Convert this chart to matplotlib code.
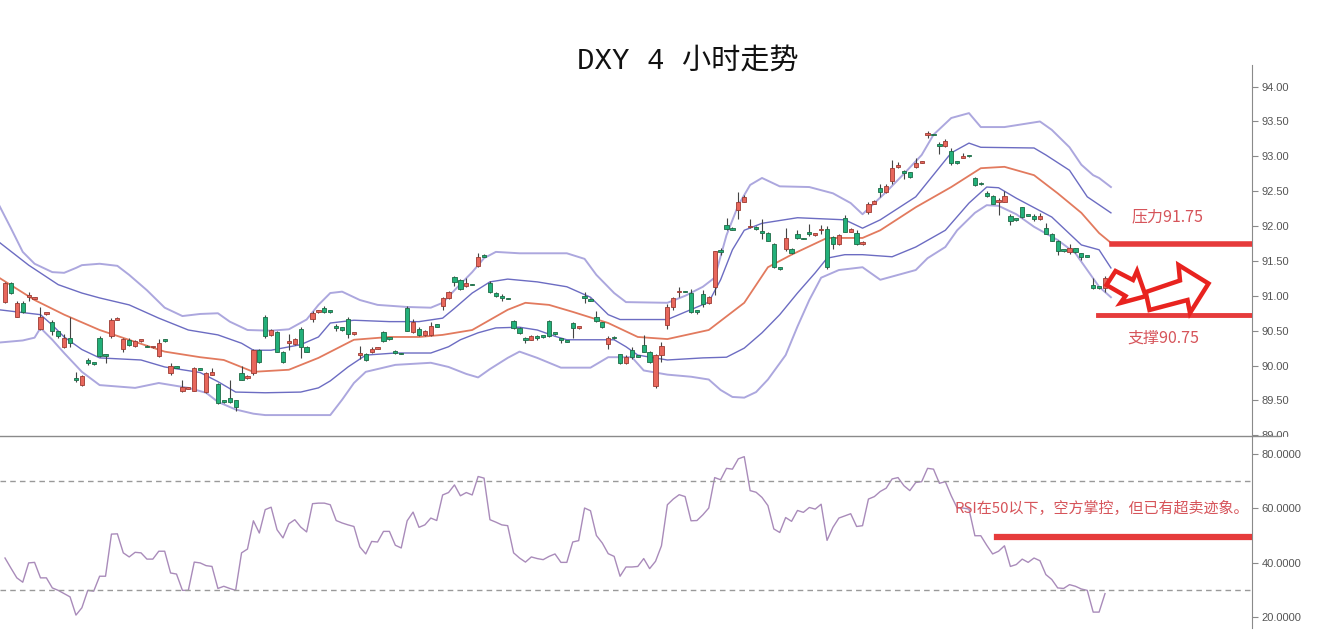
import numpy as np
import matplotlib.pyplot as plt
from matplotlib.lines import Line2D
from matplotlib.patches import Polygon, Rectangle

# %% DXY 4h candles (one value per bar)
opens = [90.91, 91.18, 90.70, 90.90, 90.98, 90.96, 90.53, 90.74, 90.63, 90.49,
         90.27, 90.40, 89.81, 89.72, 90.08, 90.03, 90.40, 90.15, 90.42, 90.66,
         90.24, 90.37, 90.28, 90.35, 90.27, 90.26, 90.14, 90.35, 89.89, 90.00,
         89.63, 89.67, 89.64, 89.96, 89.62, 89.87, 89.74, 89.48, 89.54, 89.50,
         89.90, 89.82, 89.90, 90.22, 90.70, 90.44, 90.48, 90.20, 90.33, 90.31,
         90.53, 90.27, 90.67, 90.77, 90.83, 90.78, 90.55, 90.55, 90.67, 90.45,
         90.15, 90.17, 90.19, 90.24, 90.48, 90.38, 90.21, 90.17, 90.83, 90.48,
         90.53, 90.44, 90.44, 90.59, 90.85, 90.97, 91.27, 91.23, 91.14, 91.16,
         91.43, 91.56, 91.19, 91.04, 90.97, 90.96, 90.64, 90.54, 90.40, 90.37,
         90.40, 90.41, 90.64, 90.46, 90.39, 90.35, 90.61, 90.54, 90.97, 90.96,
         90.70, 90.62, 90.31, 90.41, 90.16, 90.03, 90.23, 90.13, 90.30, 90.20,
         89.70, 90.15, 90.58, 90.84, 91.05, 91.06, 91.04, 90.77, 91.03, 90.90,
         91.13, 91.64, 92.01, 91.96, 92.23, 92.35, 91.98, 91.99, 91.90, 91.90,
         91.74, 91.41, 91.67, 91.67, 91.89, 91.82, 91.89, 91.87, 91.94, 91.96,
         91.84, 91.74, 92.12, 91.92, 91.90, 91.74, 92.20, 92.32, 92.55, 92.49,
         92.65, 92.85, 92.79, 92.77, 92.85, 92.91, 93.31, 93.31, 93.18, 93.15,
         93.08, 92.93, 92.98, 93.00, 92.69, 92.60, 92.47, 92.43, 92.35, 92.35,
         92.14, 92.09, 92.27, 92.15, 92.15, 92.10, 91.97, 91.89, 91.79, 91.64,
         91.63, 91.68, 91.61, 91.56, 91.16, 91.11, 91.11]
highs = [91.20, 91.20, 90.93, 90.93, 91.05, 90.99, 90.84, 90.76, 90.66, 90.50,
         90.45, 90.70, 89.91, 89.87, 90.11, 90.04, 90.42, 90.16, 90.68, 90.70,
         90.40, 90.40, 90.37, 90.37, 90.30, 90.27, 90.38, 90.38, 90.03, 90.00,
         89.80, 89.69, 89.98, 89.97, 89.91, 89.96, 89.75, 89.49, 89.80, 89.50,
         89.99, 89.86, 90.24, 90.24, 90.72, 90.53, 90.50, 90.21, 90.45, 90.40,
         90.56, 90.28, 90.78, 90.79, 90.85, 90.79, 90.60, 90.56, 90.69, 90.47,
         90.28, 90.18, 90.26, 90.26, 90.50, 90.39, 90.23, 90.18, 90.85, 90.67,
         90.55, 90.51, 90.62, 90.60, 90.99, 91.07, 91.28, 91.24, 91.25, 91.17,
         91.62, 91.60, 91.21, 91.05, 91.02, 90.97, 90.66, 90.55, 90.41, 90.44,
         90.44, 90.42, 90.66, 90.47, 90.40, 90.35, 90.62, 90.56, 91.05, 90.97,
         90.78, 90.63, 90.42, 90.42, 90.17, 90.15, 90.26, 90.14, 90.44, 90.21,
         90.17, 90.34, 90.89, 90.99, 91.13, 91.07, 91.10, 90.79, 91.08, 91.00,
         91.65, 91.68, 92.12, 91.98, 92.49, 92.44, 92.10, 92.00, 92.10, 91.91,
         91.76, 91.42, 91.97, 91.68, 91.95, 91.83, 92.03, 91.88, 92.02, 92.00,
         91.86, 91.88, 92.16, 91.97, 91.95, 91.78, 92.34, 92.38, 92.60, 92.60,
         92.95, 92.92, 92.80, 92.78, 92.97, 92.93, 93.37, 93.32, 93.20, 93.25,
         93.12, 92.94, 93.05, 93.01, 92.70, 92.63, 92.50, 92.44, 92.40, 92.50,
         92.17, 92.10, 92.28, 92.16, 92.18, 92.19, 92.05, 91.90, 91.80, 91.65,
         91.75, 91.69, 91.62, 91.57, 91.25, 91.12, 91.28]
lows = [90.90, 91.02, 90.69, 90.75, 90.92, 90.95, 90.51, 90.73, 90.44, 90.40,
        90.25, 90.27, 89.76, 89.70, 90.01, 90.01, 90.13, 90.04, 90.40, 90.65,
        90.20, 90.28, 90.26, 90.34, 90.26, 90.25, 90.13, 90.34, 89.87, 89.96,
        89.62, 89.66, 89.63, 89.93, 89.61, 89.86, 89.45, 89.47, 89.46, 89.35,
        89.79, 89.81, 89.87, 90.04, 90.40, 90.43, 90.19, 90.04, 90.23, 90.30,
        90.11, 90.19, 90.62, 90.76, 90.76, 90.76, 90.50, 90.50, 90.40, 90.44,
        90.09, 90.07, 90.18, 90.24, 90.34, 90.37, 90.17, 90.16, 90.49, 90.46,
        90.43, 90.43, 90.43, 90.55, 90.80, 90.96, 91.14, 91.08, 91.13, 91.15,
        91.42, 91.55, 91.04, 90.99, 90.92, 90.95, 90.53, 90.45, 90.33, 90.36,
        90.36, 90.40, 90.41, 90.44, 90.33, 90.34, 90.40, 90.53, 90.90, 90.92,
        90.63, 90.54, 90.24, 90.38, 90.02, 90.02, 90.10, 90.12, 90.19, 90.04,
        89.68, 90.05, 90.52, 90.80, 90.98, 91.05, 90.76, 90.74, 90.84, 90.89,
        91.01, 91.58, 91.94, 91.94, 92.10, 92.34, 91.97, 91.95, 91.82, 91.78,
        91.40, 91.37, 91.65, 91.60, 91.82, 91.81, 91.86, 91.86, 91.89, 91.38,
        91.67, 91.73, 91.91, 91.91, 91.73, 91.73, 92.18, 92.31, 92.42, 92.48,
        92.60, 92.84, 92.68, 92.69, 92.84, 92.91, 93.26, 93.30, 93.03, 93.14,
        92.88, 92.89, 92.97, 92.99, 92.57, 92.59, 92.42, 92.31, 92.16, 92.34,
        92.01, 92.08, 92.12, 92.14, 92.08, 92.09, 91.88, 91.78, 91.59, 91.63,
        91.60, 91.62, 91.52, 91.55, 91.10, 91.10, 91.05]
closes = [91.18, 91.04, 90.90, 90.77, 90.99, 90.98, 90.70, 90.75, 90.49, 90.42,
          90.40, 90.32, 89.80, 89.85, 90.03, 90.02, 90.14, 90.14, 90.65, 90.67,
          90.38, 90.30, 90.35, 90.36, 90.26, 90.27, 90.33, 90.35, 89.99, 89.97,
          89.69, 89.69, 89.97, 89.94, 89.90, 89.91, 89.47, 89.48, 89.48, 89.41,
          89.80, 89.85, 90.22, 90.05, 90.43, 90.51, 90.20, 90.05, 90.34, 90.38,
          90.26, 90.20, 90.76, 90.78, 90.77, 90.77, 90.54, 90.51, 90.45, 90.46,
          90.16, 90.08, 90.24, 90.25, 90.35, 90.38, 90.18, 90.16, 90.50, 90.63,
          90.44, 90.50, 90.57, 90.56, 90.97, 91.05, 91.20, 91.10, 91.18, 91.15,
          91.56, 91.56, 91.06, 91.00, 90.97, 90.95, 90.54, 90.46, 90.37, 90.43,
          90.40, 90.41, 90.43, 90.45, 90.36, 90.34, 90.54, 90.55, 90.97, 90.93,
          90.64, 90.55, 90.40, 90.39, 90.03, 90.13, 90.13, 90.13, 90.20, 90.05,
          90.15, 90.28, 90.84, 90.97, 91.06, 91.05, 90.77, 90.77, 90.88, 90.98,
          91.64, 91.63, 91.96, 91.95, 92.35, 92.42, 91.99, 91.96, 91.90, 91.79,
          91.41, 91.38, 91.83, 91.61, 91.83, 91.81, 91.89, 91.88, 91.95, 91.41,
          91.74, 91.87, 91.92, 91.96, 91.74, 91.77, 92.32, 92.36, 92.49, 92.57,
          92.83, 92.88, 92.76, 92.70, 92.90, 92.92, 93.32, 93.30, 93.15, 93.22,
          92.90, 92.90, 93.00, 93.00, 92.59, 92.60, 92.43, 92.32, 92.37, 92.43,
          92.07, 92.09, 92.13, 92.15, 92.10, 92.15, 91.89, 91.79, 91.64, 91.64,
          91.69, 91.63, 91.56, 91.56, 91.11, 91.11, 91.26]

# %% Bollinger-style bands, read at bar positions
mid_idx = [-1, 5, 10, 16, 22, 27, 33, 37, 42, 48, 53, 59, 65, 70, 74, 79, 85, 88, 92,
           96, 102, 107, 112, 119, 125, 129, 133, 139, 145, 148, 154, 160, 165, 169,
           174, 178, 182, 185, 187]
mid_val = [91.26, 90.94, 90.73, 90.51, 90.34, 90.20, 90.12, 90.08, 89.91, 89.94, 90.11,
           90.37, 90.41, 90.41, 90.44, 90.51, 90.80, 90.90, 90.87, 90.77, 90.61, 90.41,
           90.38, 90.51, 90.90, 91.41, 91.59, 91.83, 91.83, 91.94, 92.27, 92.56, 92.83,
           92.85, 92.73, 92.47, 92.19, 91.90, 91.76]

uo_idx = [-1, 1, 3, 5, 8, 10, 12, 13, 16, 19, 21, 24, 27, 30, 33, 36, 38, 41, 45, 48,
          51, 53, 55, 57, 60, 63, 68, 72, 74, 76, 79, 81, 83, 87, 95, 98, 100, 103, 105,
          112, 115, 118, 120, 122, 124, 126, 128, 131, 136, 140, 143, 145, 147, 149, 152,
          155, 157, 160, 163, 165, 169, 175, 177, 180, 182, 184, 185, 187]
uo_val = [92.30, 91.97, 91.63, 91.46, 91.34, 91.33, 91.40, 91.44, 91.46, 91.43, 91.30,
          91.08, 90.83, 90.71, 90.74, 90.75, 90.63, 90.51, 90.50, 90.52, 90.66, 90.87,
          91.04, 91.06, 90.94, 90.87, 90.84, 90.83, 90.90, 91.08, 91.34, 91.54, 91.63,
          91.61, 91.61, 91.53, 91.30, 91.04, 90.91, 90.90, 91.00, 91.13, 91.26, 91.87,
          92.30, 92.59, 92.69, 92.57, 92.56, 92.47, 92.33, 92.17, 92.33, 92.49, 92.75,
          93.02, 93.31, 93.55, 93.62, 93.42, 93.42, 93.50, 93.38, 93.13, 92.88, 92.73,
          92.69, 92.56]

ui_idx = [-1, 4, 9, 13, 16, 21, 26, 31, 36, 40, 42, 45, 50, 53, 55, 59, 65, 70, 74, 76,
          79, 82, 85, 90, 95, 99, 102, 104, 112, 119, 121, 123, 125, 128, 134, 142, 145,
          148, 154, 160, 163, 165, 174, 176, 180, 183, 187]
ui_val = [91.77, 91.44, 91.16, 91.04, 90.97, 90.87, 90.68, 90.51, 90.44, 90.32, 90.22,
          90.22, 90.30, 90.41, 90.61, 90.65, 90.63, 90.63, 90.68, 90.82, 91.04, 91.20,
          91.24, 91.20, 91.13, 90.98, 90.73, 90.66, 90.66, 90.91, 91.23, 91.66, 91.94,
          92.04, 92.12, 92.09, 91.97, 92.09, 92.42, 93.05, 93.19, 93.13, 93.12, 93.02,
          92.80, 92.42, 92.19]

li_idx = [-1, 6, 8, 10, 13, 16, 23, 27, 33, 36, 39, 44, 50, 53, 55, 58, 61, 66, 72, 75,
          77, 80, 83, 87, 90, 93, 95, 103, 105, 107, 112, 118, 122, 125, 128, 131, 134,
          137, 139, 142, 145, 150, 154, 159, 163, 166, 168, 171, 177, 182, 185, 187]
li_val = [90.80, 90.73, 90.58, 90.41, 90.23, 90.11, 90.08, 89.98, 89.90, 89.77, 89.62,
          89.61, 89.62, 89.68, 89.78, 89.98, 90.15, 90.18, 90.18, 90.27, 90.37, 90.47,
          90.54, 90.55, 90.51, 90.42, 90.37, 90.37, 90.27, 90.15, 90.08, 90.11, 90.12,
          90.25, 90.47, 90.73, 91.04, 91.33, 91.54, 91.59, 91.59, 91.56, 91.70, 91.94,
          92.33, 92.56, 92.55, 92.40, 92.13, 91.73, 91.66, 91.40]

lo_idx = [-1, 3, 5, 6, 8, 10, 13, 16, 22, 26, 31, 34, 36, 39, 42, 44, 55, 57, 59, 61,
          66, 72, 75, 78, 80, 82, 85, 87, 90, 94, 99, 102, 106, 108, 112, 116, 119, 121,
          123, 125, 127, 129, 132, 134, 136, 138, 141, 145, 148, 151, 154, 156, 159, 161,
          164, 166, 168, 171, 174, 178, 181, 183, 185, 187]
lo_val = [90.33, 90.36, 90.40, 90.54, 90.37, 90.18, 89.91, 89.72, 89.68, 89.75, 89.68,
          89.61, 89.48, 89.37, 89.31, 89.29, 89.29, 89.51, 89.75, 89.91, 90.01, 90.04,
          89.98, 89.88, 89.83, 89.95, 90.11, 90.20, 90.11, 89.97, 89.97, 90.12, 90.12,
          89.93, 89.87, 89.84, 89.80, 89.65, 89.55, 89.54, 89.62, 89.80, 90.15, 90.56,
          90.94, 91.26, 91.37, 91.41, 91.23, 91.30, 91.37, 91.54, 91.70, 91.94, 92.19,
          92.30, 92.29, 92.17, 91.99, 91.80, 91.61, 91.37, 91.13, 90.98]

# %% RSI, one value per bar
rsi = [41.7, 38.0, 34.4, 32.8, 39.9, 40.1, 34.4, 34.4, 30.7, 29.8,
       28.6, 27.4, 20.7, 23.4, 29.8, 29.5, 35.0, 35.0, 50.5, 50.6,
       43.6, 42.1, 43.8, 43.6, 41.3, 41.3, 44.2, 44.2, 36.2, 35.8,
       29.8, 29.8, 40.2, 39.9, 38.9, 38.6, 30.5, 31.3, 30.5, 29.8,
       43.6, 45.0, 55.4, 50.9, 59.5, 60.4, 52.1, 49.1, 54.3, 55.8,
       53.1, 51.3, 61.7, 61.9, 61.9, 61.3, 55.5, 54.6, 53.9, 53.3,
       45.8, 43.2, 47.8, 47.6, 51.5, 51.5, 46.4, 45.4, 55.4, 58.6,
       53.0, 53.9, 56.4, 55.5, 64.9, 65.8, 68.6, 64.6, 65.8, 64.9,
       71.7, 71.1, 55.8, 54.9, 53.9, 53.6, 43.6, 41.7, 40.2, 42.1,
       41.5, 41.1, 42.3, 43.2, 40.1, 40.1, 47.6, 48.1, 60.1, 59.1,
       50.0, 47.2, 43.3, 42.3, 35.0, 38.4, 38.4, 38.6, 41.5, 37.8,
       40.5, 46.2, 61.3, 63.4, 65.0, 64.3, 55.4, 55.5, 57.6, 60.1,
       71.3, 70.5, 74.7, 74.4, 78.2, 79.0, 66.5, 65.9, 64.0, 61.0,
       52.4, 51.1, 56.6, 55.2, 59.2, 58.5, 60.3, 59.7, 61.5, 48.2,
       53.0, 56.4, 57.2, 58.0, 53.3, 53.6, 63.4, 64.3, 66.2, 67.4,
       70.8, 71.3, 68.3, 66.5, 69.5, 69.8, 74.7, 74.4, 69.2, 69.8,
       64.6, 60.1, 60.1, 59.7, 49.9, 49.9, 46.4, 43.2, 44.2, 46.2,
       38.6, 39.3, 41.3, 40.1, 41.7, 40.7, 35.6, 33.8, 30.7, 30.5,
       31.9, 31.3, 30.3, 29.8, 21.8, 21.8, 28.6]

resistance = 91.75
support = 90.72
rsi_mid = 49.5

price_ticks = [89.0, 89.5, 90.0, 90.5, 91.0, 91.5, 92.0, 92.5, 93.0, 93.5, 94.0]
rsi_ticks = [20, 40, 60, 80]

# %% figure
W, H = 1317, 640
fig = plt.figure(figsize=(W / 100, H / 100), dpi=100)
fig.patch.set_facecolor("white")

ax = fig.add_axes([0, (H - 436) / H, 1252 / W, 371 / H])
ax2 = fig.add_axes([0, (H - 628) / H, 1252 / W, 192 / H], zorder=2)

o = np.array(opens); c = np.array(closes)
hi = np.array(highs); lo = np.array(lows)
x = np.arange(len(o))
up = c > o
body_lo = np.minimum(o, c)
body_h = np.maximum(np.abs(c - o), 0.025)

ax.vlines(x, lo, hi, color="#444444", lw=0.8, zorder=3)
ax.bar(x[up], body_h[up], bottom=body_lo[up], width=0.72,
       color="#e8675c", edgecolor="#9c3b33", lw=0.6, zorder=4)
ax.bar(x[~up], body_h[~up], bottom=body_lo[~up], width=0.72,
       color="#22b07a", edgecolor="#1d6b45", lw=0.6, zorder=4)

ax.plot(uo_idx, uo_val, color="#aca7de", lw=1.4, zorder=2)
ax.plot(lo_idx, lo_val, color="#aca7de", lw=1.4, zorder=2)
ax.plot(ui_idx, ui_val, color="#6c6cc2", lw=1.0, zorder=2)
ax.plot(li_idx, li_val, color="#6c6cc2", lw=1.0, zorder=2)
ax.plot(mid_idx, mid_val, color="#e27a5e", lw=1.3, zorder=2)

xl = (-5 / 5.914, (1252 - 5) / 5.914)
ax.set_xlim(*xl)
ax.set_ylim(88.99, 94.31)

ax.axhline(resistance, xmin=1112 / 1252, xmax=1, color="#e63b3b", lw=4, zorder=5)
ax.axhline(support, xmin=1098 / 1252, xmax=1, color="#e63b3b", lw=3.5, zorder=5)

for a in (ax, ax2):
    for s in ("left", "top", "bottom"):
        a.spines[s].set_visible(False)
    a.spines["right"].set_color("#8a8a8a")
    a.set_xticks([])
    a.yaxis.tick_right()
    a.tick_params(axis="y", direction="out", length=4, color="#8a8a8a",
                  labelcolor="#555555", labelsize=8, pad=3)

ax.set_yticks(price_ticks)
ax.set_yticklabels([f"{v:.2f}" for v in price_ticks], family="Liberation Sans")

# RSI panel
ax2.plot(x, rsi, color="#a98bba", lw=1.0)
ax2.axhline(70, color="#999999", lw=1, ls=(0, (4, 3)))
ax2.axhline(30, color="#999999", lw=1, ls=(0, (4, 3)))
ax2.axhline(rsi_mid, xmin=997 / 1252, xmax=1, color="#e63b3b", lw=4.5)
ax2.set_xlim(*xl)
ax2.set_ylim(15.95, 86.6)
ax2.set_yticks(rsi_ticks)
ax2.set_yticklabels([f"{v:.4f}" for v in rsi_ticks], family="Liberation Sans")

# hide lower half of the 89.00 label like the original
fig.add_artist(Rectangle((1253 / W, 0), 1 - 1253 / W, (H - 437) / H,
                         transform=fig.transFigure, color="white", zorder=1))
fig.add_artist(Line2D([0, 1280 / W], [(H - 436) / H] * 2, color="#8a8a8a",
                      lw=1, transform=fig.transFigure, zorder=3))

# title and notes
fig.text(688 / W, 1 - 61 / H, "DXY 4 小时走势", ha="center", va="center",
         fontsize=21, family=["Liberation Mono", "Noto Sans CJK SC"], color="#111111")
fig.text(1167 / W, 1 - 217 / H, "压力91.75", ha="center", va="center",
         fontsize=11.5, family=["Noto Sans CJK SC"], color="#d6545a", zorder=6)
fig.text(1163 / W, 1 - 338 / H, "支撑90.75", ha="center", va="center",
         fontsize=11.5, family=["Noto Sans CJK SC"], color="#d6545a", zorder=6)
fig.text(955 / W, 1 - 508 / H, "RSI在50以下，空方掌控，但已有超卖迹象。", ha="left",
         va="center", fontsize=10.8, family=["Noto Sans CJK SC"], color="#d6545a",
         zorder=6)

# hollow zig-zag arrow
arrow_px = [(1106.5, 285), (1115.5, 271), (1133, 280), (1137, 271), (1144.5, 292.5),
            (1180, 280.5), (1178.5, 265), (1208.5, 283.5), (1190, 313), (1187.5, 300),
            (1149.5, 310), (1146.5, 296), (1120.5, 303), (1125.5, 296)]
fig.add_artist(Polygon([(px / W, 1 - py / H) for px, py in arrow_px], closed=True,
                       transform=fig.transFigure, facecolor="white",
                       edgecolor="#e8231f", lw=3.2, joinstyle="miter", zorder=6))

plt.savefig("out.png", dpi=100)
